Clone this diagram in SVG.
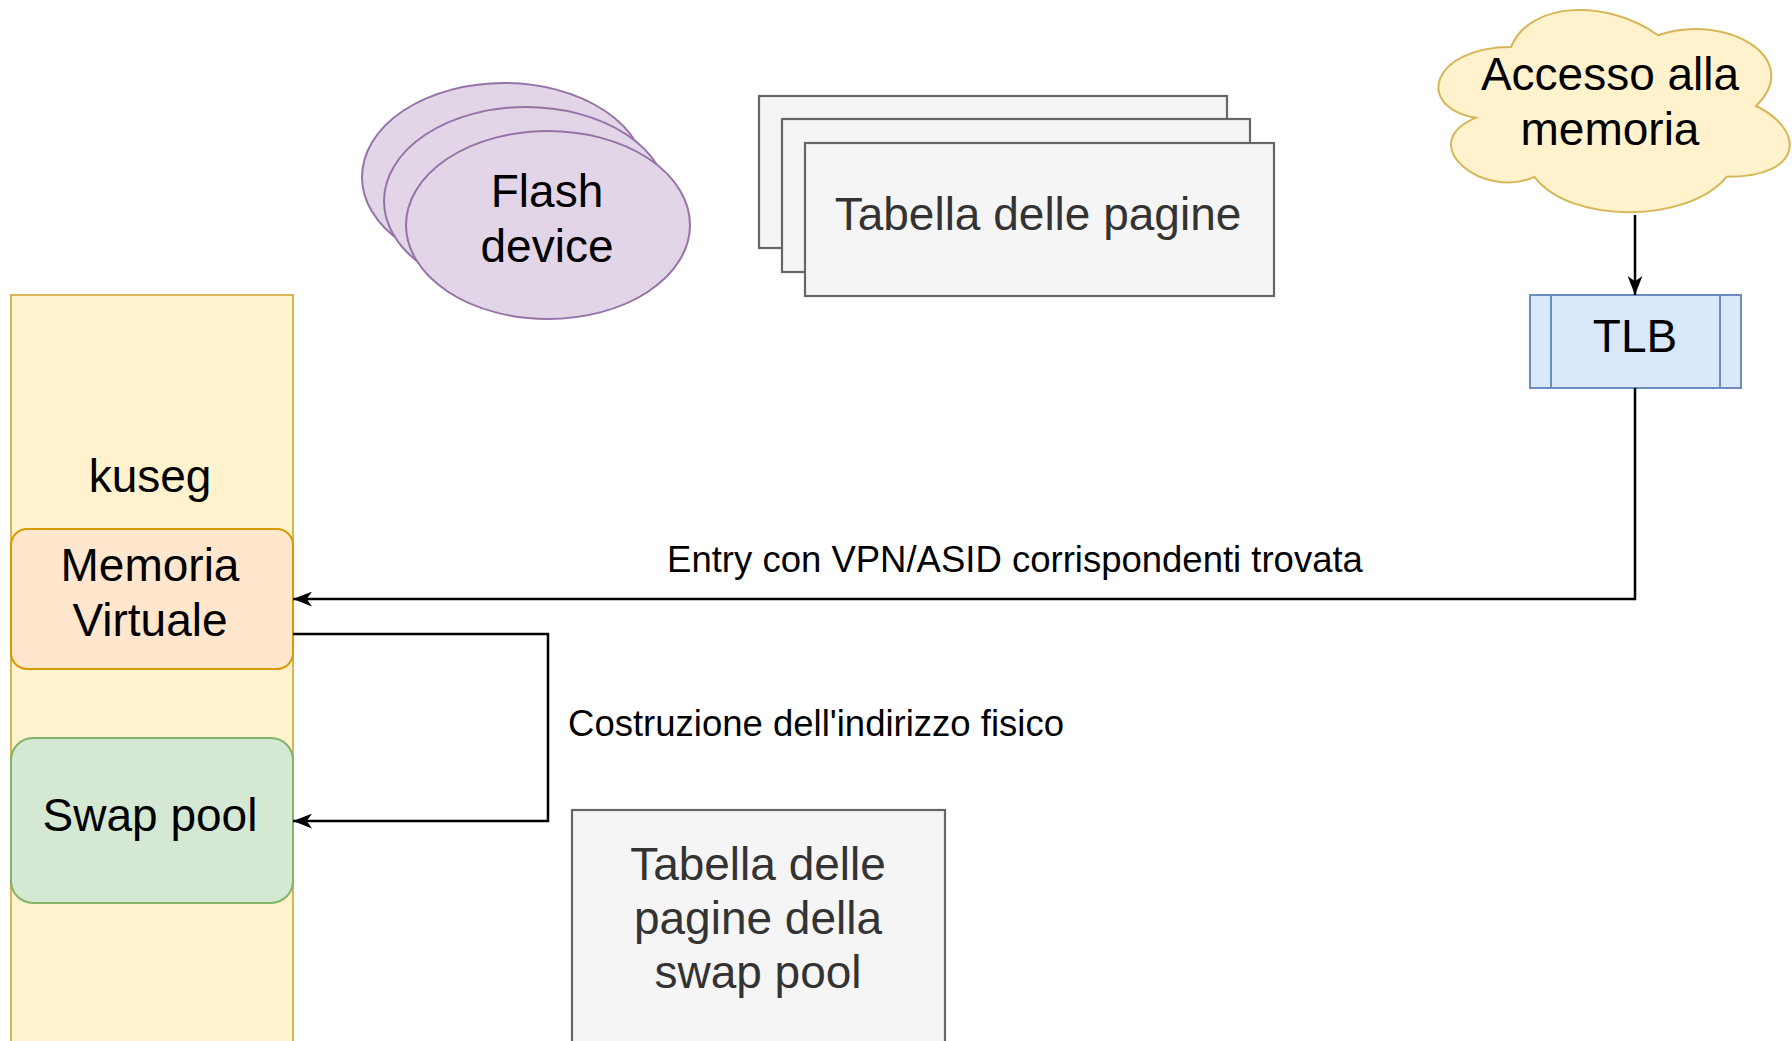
<svg xmlns="http://www.w3.org/2000/svg" width="1792" height="1041" viewBox="0 0 1792 1041">
<style>
text{font-family:"Liberation Sans",Arial,sans-serif;text-anchor:middle;fill:#000}
.big{font-size:46px}
.lbl{font-size:36.5px}
.grey{fill:#f5f5f5;stroke:#666666;stroke-width:2.2}
.gt{fill:#333333}
.edge{fill:none;stroke:#000;stroke-width:2.5}
</style>
<defs>
<marker id="arr" viewBox="0 0 18 14" refX="18" refY="7" markerWidth="19" markerHeight="15" markerUnits="userSpaceOnUse" orient="auto">
<path d="M0,0 L18,7 L0,14 L5,7 Z" fill="#000"/>
</marker>
</defs>
<rect width="1792" height="1041" fill="#ffffff"/>
<g id="kuseg">
<rect x="11" y="295" width="282" height="780" fill="#fff2cc" stroke="#d6b656" stroke-width="2"/>
<text class="big" x="150" y="492">kuseg</text>
</g>
<g id="memoria-virtuale">
<rect x="11" y="529" width="282" height="140" rx="16" fill="#ffe6cc" stroke="#d79b00" stroke-width="2"/>
<text class="big" x="150" y="581">Memoria</text>
<text class="big" x="150" y="636">Virtuale</text>
</g>
<g id="swap-pool">
<rect x="11" y="738" width="282" height="165" rx="22" fill="#d5e8d4" stroke="#82b366" stroke-width="2"/>
<text class="big" x="150" y="831">Swap pool</text>
</g>
<g id="flash-device">
<ellipse cx="504" cy="177" rx="142" ry="94" fill="#e1d5e7" stroke="#9673a6" stroke-width="2"/>
<ellipse cx="526" cy="201" rx="142" ry="94" fill="#e1d5e7" stroke="#9673a6" stroke-width="2"/>
<ellipse cx="548" cy="225" rx="142" ry="94" fill="#e1d5e7" stroke="#9673a6" stroke-width="2"/>
<text class="big" x="547" y="207">Flash</text>
<text class="big" x="547" y="262">device</text>
</g>
<g id="tabella-pagine">
<rect class="grey" x="759" y="96" width="468" height="152"/>
<rect class="grey" x="782" y="119" width="468" height="153"/>
<rect class="grey" x="805" y="143" width="469" height="153"/>
<text class="big gt" x="1038" y="230">Tabella delle pagine</text>
</g>
<g id="accesso-memoria">
<path d="M1511,47 C1432.6,47 1413,106 1475.7,117.8 C1413,143.8 1483.6,200.4 1534.5,176.8 C1569.8,224 1687.4,224 1726.6,176.8 C1805,176.8 1805,129.6 1756,106 C1805,58.8 1726.6,11.6 1658,35.2 C1609,-0.2 1530.6,-0.2 1511,47 Z" fill="#fff2cc" stroke="#d6b656" stroke-width="2"/>
<text class="big" x="1610" y="90">Accesso alla</text>
<text class="big" x="1610" y="145">memoria</text>
</g>
<g id="tlb">
<rect x="1530" y="295" width="211" height="93" fill="#dae8fc" stroke="#6c8ebf" stroke-width="2"/>
<line x1="1551" y1="295" x2="1551" y2="388" stroke="#6c8ebf" stroke-width="2"/>
<line x1="1720" y1="295" x2="1720" y2="388" stroke="#6c8ebf" stroke-width="2"/>
<text class="big" x="1635" y="352">TLB</text>
</g>
<g id="tabella-swap">
<rect class="grey" x="572" y="810" width="373" height="260"/>
<text class="big gt" x="758" y="880">Tabella delle</text>
<text class="big gt" x="758" y="934">pagine della</text>
<text class="big gt" x="758" y="988">swap pool</text>
</g>
<g id="connectors">
<path class="edge" d="M1635,215 L1635,295" marker-end="url(#arr)"/>
<path class="edge" d="M1635,388 L1635,599 L293,599" marker-end="url(#arr)"/>
<text class="lbl" x="1015" y="572">Entry con VPN/ASID corrispondenti trovata</text>
<path class="edge" d="M293,634 L548,634 L548,821 L293,821" marker-end="url(#arr)"/>
<text class="lbl" x="816" y="736">Costruzione dell'indirizzo fisico</text>
</g>
</svg>
